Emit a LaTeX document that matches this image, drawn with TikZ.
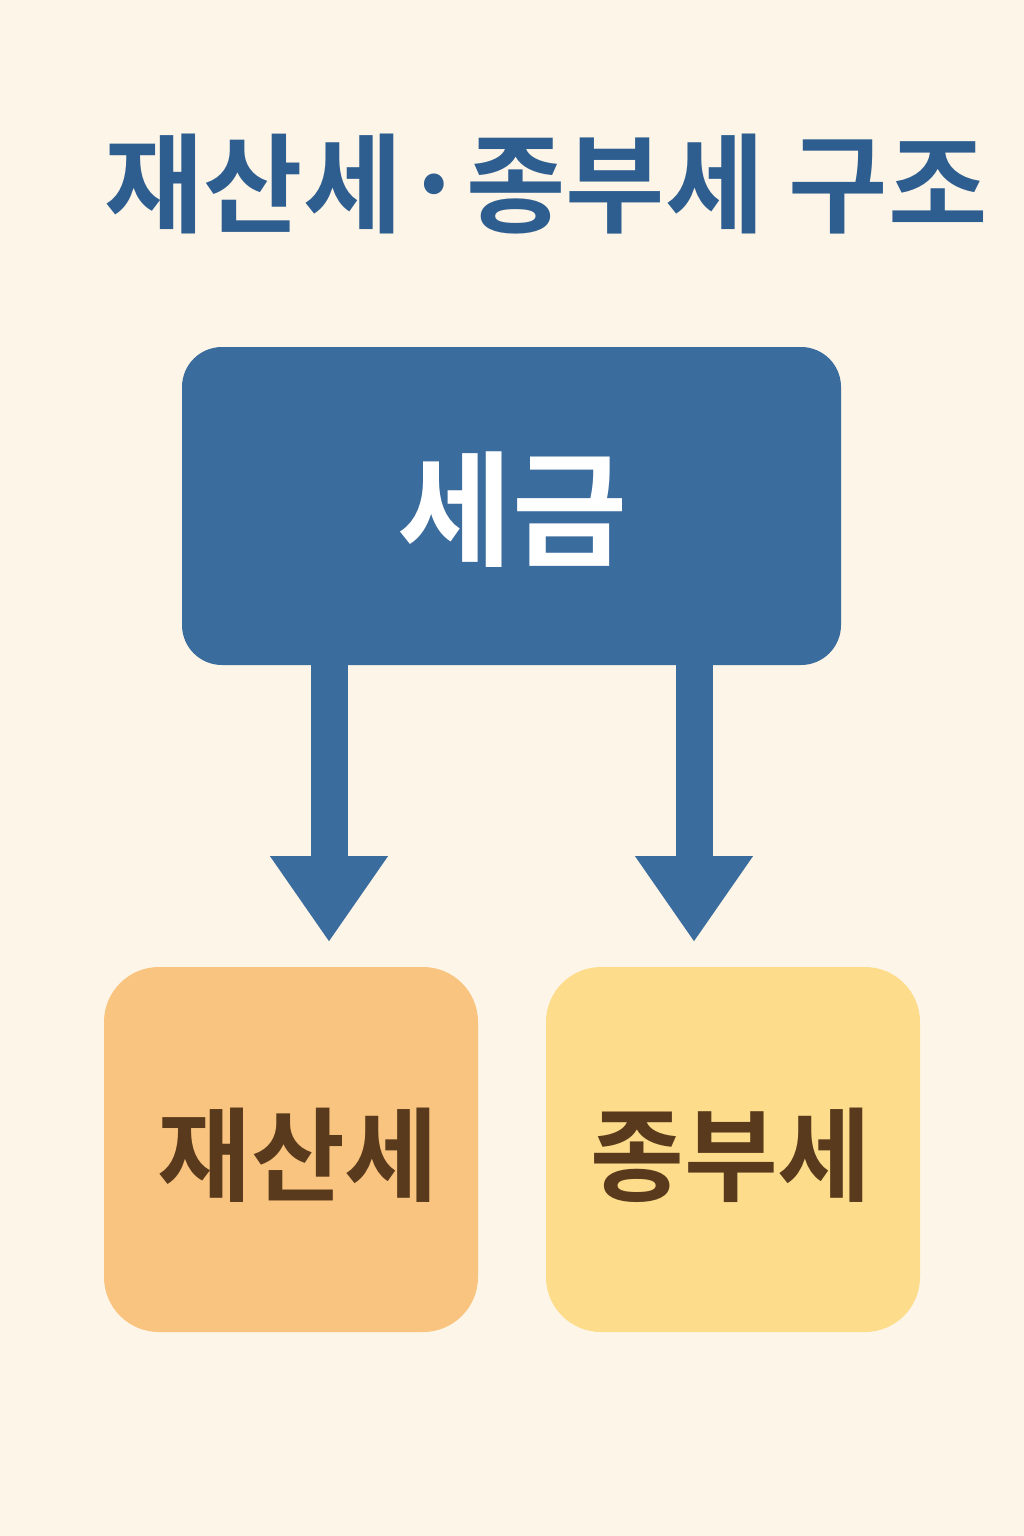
\documentclass[tikz,border=0pt]{standalone}
\usepackage{fontspec}
\newfontfamily\kr{Noto Sans CJK KR}[BoldFont={* Bold}]
\usetikzlibrary{arrows.meta}
\definecolor{bg}{HTML}{FDF5E7}
\definecolor{titleblue}{HTML}{2E5E90}
\definecolor{boxblue}{HTML}{3B6C9E}
\definecolor{boxorange}{HTML}{F9C47F}
\definecolor{boxyellow}{HTML}{FDDD8B}
\definecolor{brown}{HTML}{5A3A1C}
\tikzset{
  box/.style={rectangle, inner sep=0pt, draw=none},
  lbl/.style={font=\kr\bfseries, inner sep=0pt},
  bigarrow/.style={draw=boxblue, line width=37pt,
    -{Triangle[length=86pt, width=112pt]}},
}
\begin{document}
\begin{tikzpicture}[x=1pt,y=-1pt]
\fill[bg] (0,0) rectangle (1024,1536);
\useasboundingbox (0,0) rectangle (1024,1536);
\node[lbl, text=titleblue, font=\kr\bfseries\fontsize{108}{108}\selectfont] (title) at (546,184) {재산세·종부세 구조};
\node[box, fill=boxblue, rounded corners=40pt, minimum width=659pt, minimum height=318pt] (tax) at (511.5,506) {};
\node[lbl, text=white, font=\kr\bfseries\fontsize{125}{125}\selectfont] (taxl) at (512,510) {세금};
\node[box, fill=boxorange, rounded corners=55pt, minimum width=374pt, minimum height=365pt] (prop) at (291,1149.5) {};
\node[lbl, text=brown, font=\kr\bfseries\fontsize{102}{102}\selectfont] (propl) at (298,1155) {재산세};
\node[box, fill=boxyellow, rounded corners=55pt, minimum width=374pt, minimum height=365pt] (comp) at (733,1149.5) {};
\node[lbl, text=brown, font=\kr\bfseries\fontsize{102}{102}\selectfont] (compl) at (731,1155) {종부세};
\coordinate (lt) at (329,942);
\coordinate (rt) at (694,942);
\draw[bigarrow] (tax.south -| lt) ++(0,-5) -- (lt);
\draw[bigarrow] (tax.south -| rt) ++(0,-5) -- (rt);
\end{tikzpicture}
\end{document}
